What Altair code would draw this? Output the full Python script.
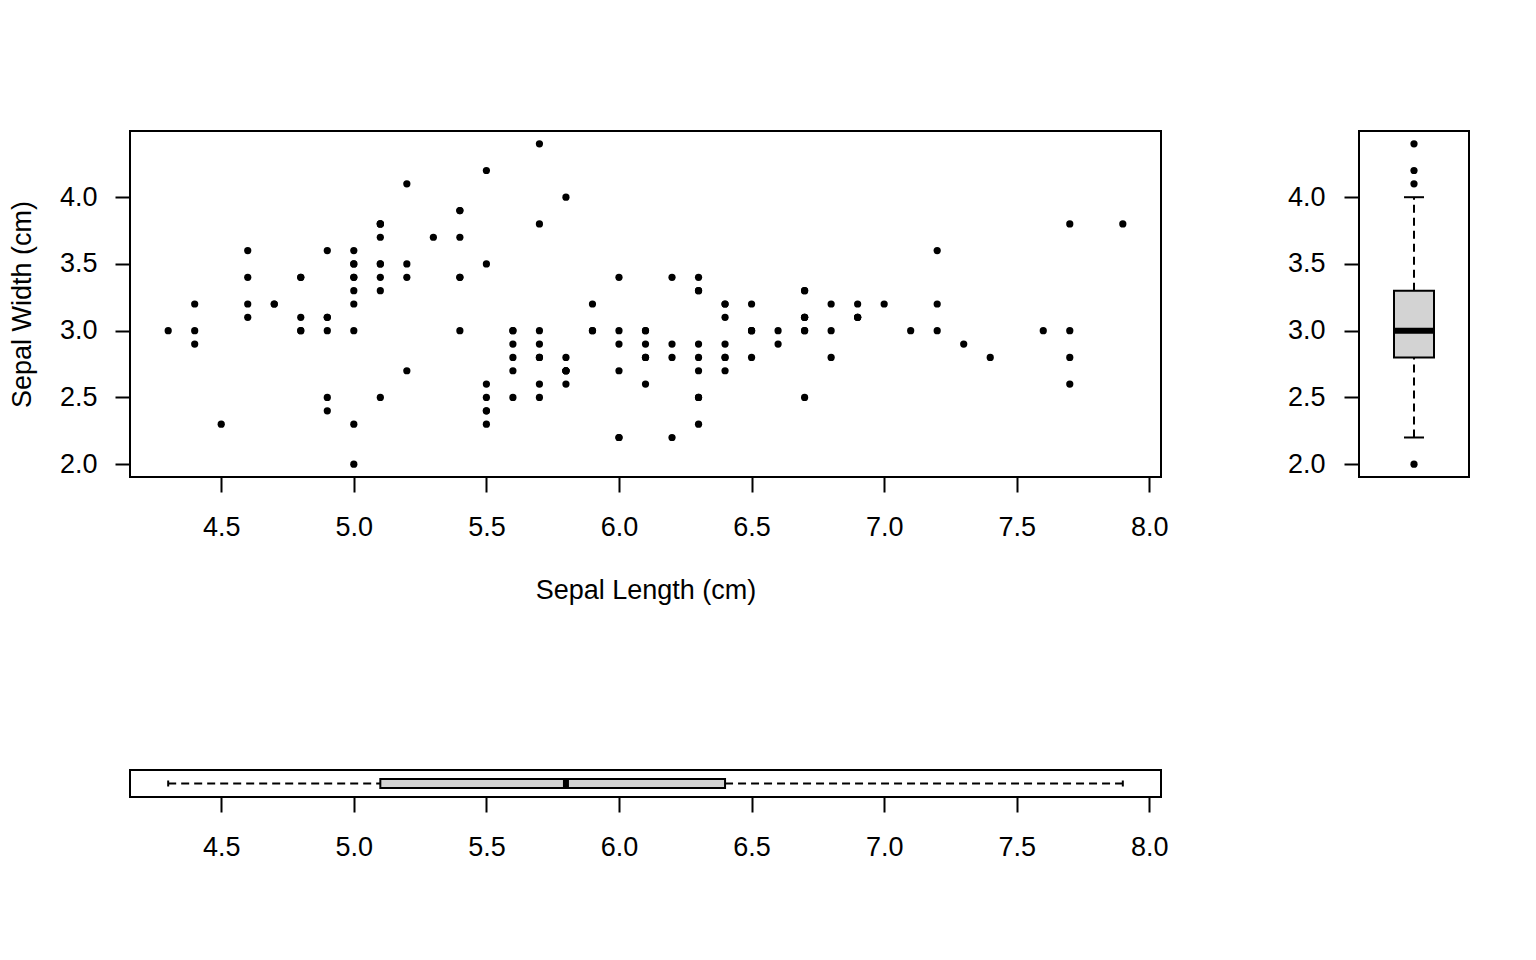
import altair as alt
import pandas as pd

sepal_length = [
    5.1, 4.9, 4.7, 4.6, 5.0, 5.4, 4.6, 5.0, 4.4, 4.9, 5.4, 4.8, 4.8, 4.3, 5.8, 5.7, 5.4, 5.1, 5.7, 5.1,
    5.4, 5.1, 4.6, 5.1, 4.8, 5.0, 5.0, 5.2, 5.2, 4.7, 4.8, 5.4, 5.2, 5.5, 4.9, 5.0, 5.5, 4.9, 4.4, 5.1,
    5.0, 4.5, 4.4, 5.0, 5.1, 4.8, 5.1, 4.6, 5.3, 5.0,
    7.0, 6.4, 6.9, 5.5, 6.5, 5.7, 6.3, 4.9, 6.6, 5.2, 5.0, 5.9, 6.0, 6.1, 5.6, 6.7, 5.6, 5.8, 6.2, 5.6,
    5.9, 6.1, 6.3, 6.1, 6.4, 6.6, 6.8, 6.7, 6.0, 5.7, 5.5, 5.5, 5.8, 6.0, 5.4, 6.0, 6.7, 6.3, 5.6, 5.5,
    5.5, 6.1, 5.8, 5.0, 5.6, 5.7, 5.7, 6.2, 5.1, 5.7,
    6.3, 5.8, 7.1, 6.3, 6.5, 7.6, 4.9, 7.3, 6.7, 7.2, 6.5, 6.4, 6.8, 5.7, 5.8, 6.4, 6.5, 7.7, 7.7, 6.0,
    6.9, 5.6, 7.7, 6.3, 6.7, 7.2, 6.2, 6.1, 6.4, 7.2, 7.4, 7.9, 6.4, 6.3, 6.1, 7.7, 6.3, 6.4, 6.0, 6.9,
    6.7, 6.9, 5.8, 6.8, 6.7, 6.7, 6.3, 6.5, 6.2, 5.9,
]
sepal_width = [
    3.5, 3.0, 3.2, 3.1, 3.6, 3.9, 3.4, 3.4, 2.9, 3.1, 3.7, 3.4, 3.0, 3.0, 4.0, 4.4, 3.9, 3.5, 3.8, 3.8,
    3.4, 3.7, 3.6, 3.3, 3.4, 3.0, 3.4, 3.5, 3.4, 3.2, 3.1, 3.4, 4.1, 4.2, 3.1, 3.2, 3.5, 3.6, 3.0, 3.4,
    3.5, 2.3, 3.2, 3.5, 3.8, 3.0, 3.8, 3.2, 3.7, 3.3,
    3.2, 3.2, 3.1, 2.3, 2.8, 2.8, 3.3, 2.4, 2.9, 2.7, 2.0, 3.0, 2.2, 2.9, 2.9, 3.1, 3.0, 2.7, 2.2, 2.5,
    3.2, 2.8, 2.5, 2.8, 2.9, 3.0, 2.8, 3.0, 2.9, 2.6, 2.4, 2.4, 2.7, 2.7, 3.0, 3.4, 3.1, 2.3, 3.0, 2.5,
    2.6, 3.0, 2.6, 2.3, 2.7, 3.0, 2.9, 2.9, 2.5, 2.8,
    3.3, 2.7, 3.0, 2.9, 3.0, 3.0, 2.5, 2.9, 2.5, 3.6, 3.2, 2.7, 3.0, 2.5, 2.8, 3.2, 3.0, 3.8, 2.6, 2.2,
    3.2, 2.8, 2.8, 2.7, 3.3, 3.2, 2.8, 3.0, 2.8, 3.0, 2.8, 3.8, 2.8, 2.8, 2.6, 3.0, 3.4, 3.1, 3.0, 3.1,
    3.1, 3.1, 2.7, 3.2, 3.3, 3.0, 2.5, 3.0, 3.4, 3.0,
]
x_ticks = [4.5, 5.0, 5.5, 6.0, 6.5, 7.0, 7.5, 8.0]
y_ticks = [2.0, 2.5, 3.0, 3.5, 4.0]
x_domain = [4.156, 8.044]
y_domain = [1.904, 4.496]

df = pd.DataFrame({"sl": sepal_length, "sw": sepal_width})

FONT = "Liberation Sans"
FS = 27

xscale = alt.Scale(domain=x_domain, nice=False, zero=False)
yscale = alt.Scale(domain=y_domain, nice=False, zero=False)

scatter = alt.Chart(df).mark_circle(size=52, color="black", opacity=1).encode(
    x=alt.X("sl:Q", scale=xscale,
            axis=alt.Axis(values=x_ticks, format=".1f", title="Sepal Length (cm)",
                          labelPadding=22, titlePadding=37, labelFlush=False, labelOverlap=False)),
    y=alt.Y("sw:Q", scale=yscale,
            axis=alt.Axis(values=y_ticks, format=".1f", title="Sepal Width (cm)",
                          labelPadding=18, titlePadding=23, labelFlush=False, labelOverlap=False)),
).properties(width=1031, height=346)

box_part = {"fill": "#d3d3d3", "stroke": "black", "strokeWidth": 2, "opacity": 1}
rule_part = {"color": "black", "size": 2, "strokeWidth": 2, "strokeDash": [8, 5], "opacity": 1}
out_part = {"color": "black", "filled": True, "size": 52, "shape": "circle", "opacity": 1}

right_box = alt.Chart(df).mark_boxplot(
    extent=1.5, size=40,
    box=box_part,
    median={"color": "black", "thickness": 6, "opacity": 1},
    rule=rule_part,
    ticks={"color": "black", "size": 20, "thickness": 2, "opacity": 1},
    outliers=out_part,
).encode(
    y=alt.Y("sw:Q", scale=yscale,
            axis=alt.Axis(values=y_ticks, format=".1f", title=None,
                          labelPadding=19, labelFlush=False, labelOverlap=False)),
).properties(width=110, height=346)

bottom_box = alt.Chart(df).mark_boxplot(
    extent=1.5, size=9,
    box=box_part,
    median={"color": "black", "thickness": 6, "opacity": 1},
    rule=rule_part,
    ticks={"color": "black", "size": 6, "thickness": 2, "opacity": 1},
    outliers=out_part,
).encode(
    x=alt.X("sl:Q", scale=xscale,
            axis=alt.Axis(values=x_ticks, format=".1f", title=None,
                          labelPadding=22, labelFlush=False, labelOverlap=False)),
).properties(width=1031, height=27)

chart = alt.concat(
    scatter, right_box, bottom_box,
    columns=2, spacing={"row": 293, "column": 198}, bounds="flush",
).properties(
    padding={"left": -1, "top": 122, "right": 10, "bottom": 10},
    background="white",
).configure_view(
    stroke="black", strokeWidth=2, fill="white"
).configure_axis(
    domain=False, ticks=True, tickSize=15, tickWidth=2, tickColor="black",
    labelFont=FONT, labelFontSize=FS, labelColor="black", grid=False,
    titleFont=FONT, titleFontSize=FS, titleFontWeight="normal", titleColor="black",
)

chart.save("out.html", embed_options={"renderer": "svg", "actions": False})
